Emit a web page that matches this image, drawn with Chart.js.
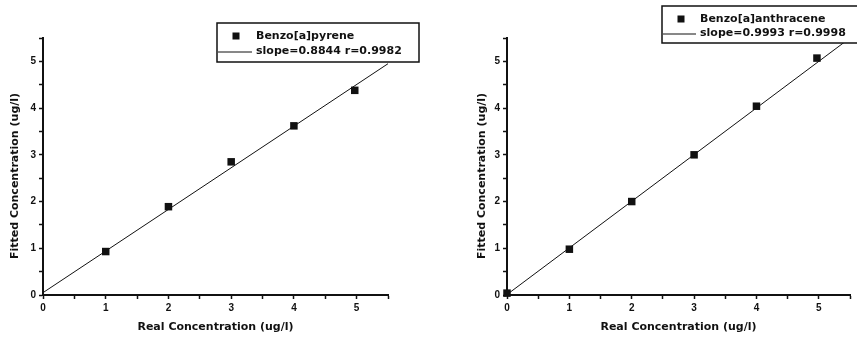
<!DOCTYPE html>
<html lang="en">
<head>
<meta charset="UTF-8">
<title>Fitted vs Real Concentration</title>
<script src="https://cdn.jsdelivr.net/npm/chart.js@4.4.1/dist/chart.umd.min.js"></script>
<style>
  html, body { margin: 0; padding: 0; background: #fff; }
  .wrap { display: flex; width: 857px; height: 337px; overflow: hidden; }
  canvas { display: block; }
</style>
</head>
<body>
<div class="wrap">
  <canvas id="chartA" width="428" height="337"></canvas>
  <canvas id="chartB" width="429" height="337"></canvas>
</div>
<script>
// Benzo[a]pyrene
const realA = [1, 2, 3, 4, 4.97];
const fittedA = [0.93, 1.89, 2.85, 3.62, 4.38];
const fitXA = [0, 5.5];
const fitYA = [0.05, 4.95];

// Benzo[a]anthracene
const realB = [0, 1, 2, 3, 4, 4.97];
const fittedB = [0.04, 0.98, 2.0, 3.0, 4.04, 5.07];
const fitXB = [0, 5.5];
const fitYB = [0.01, 5.5];

const names = ['Benzo[a]pyrene', 'Benzo[a]anthracene'];
const fitLabels = ['slope=0.8844 r=0.9982', 'slope=0.9993 r=0.9998'];
const xTitle = 'Real Concentration (ug/l)';
const yTitle = 'Fitted Concentration (ug/l)';
const tickStep = 0.5;
const axisMax = 5.5;

const INK = '#111';
const toPts = (xs, ys) => xs.map((x, i) => ({ x, y: ys[i] }));

// legend box over the plot + y title, placed like the original figure
const boxLegend = {
  id: 'boxLegend',
  afterDraw(chart, args, o) {
    const ctx = chart.ctx;
    ctx.save();
    ctx.fillStyle = '#fff';
    ctx.strokeStyle = INK;
    ctx.lineWidth = 1.5;
    ctx.fillRect(o.x, o.y, o.w, o.h);
    ctx.strokeRect(o.x, o.y, o.w, o.h);
    ctx.fillStyle = INK;
    ctx.fillRect(o.markX - 3.5, o.row1 - 3.5, 7, 7);
    ctx.lineWidth = 1;
    ctx.beginPath();
    ctx.moveTo(o.x + 1, o.row2 + 1);
    ctx.lineTo(o.textX - 4, o.row2 + 1);
    ctx.stroke();
    ctx.font = 'bold 11px "DejaVu Sans", sans-serif';
    ctx.textBaseline = 'middle';
    ctx.fillText(o.label, o.textX, o.row1);
    ctx.fillText(o.fit, o.textX, o.row2);

    // y axis title
    ctx.translate(o.yTitleX, o.yTitleY);
    ctx.rotate(-Math.PI / 2);
    ctx.textAlign = 'center';
    ctx.fillText(yTitle, 0, 0);
    ctx.restore();
  }
};

function makeChart(id, xs, ys, fx, fy, idx, pad, legend) {
  return new Chart(document.getElementById(id), {
    type: 'scatter',
    data: {
      datasets: [
        {
          label: names[idx],
          data: toPts(xs, ys),
          pointStyle: 'rect',
          pointRadius: 5.3,
          backgroundColor: INK,
          borderColor: INK,
          borderWidth: 0,
          clip: false
        },
        {
          label: fitLabels[idx],
          data: toPts(fx, fy),
          showLine: true,
          pointRadius: 0,
          borderColor: INK,
          borderWidth: 1,
          fill: false
        }
      ]
    },
    options: {
      responsive: false,
      animation: false,
      layout: { padding: pad },
      plugins: {
        legend: { display: false },
        tooltip: { enabled: false },
        boxLegend: { ...legend, label: names[idx], fit: fitLabels[idx] }
      },
      scales: {
        x: {
          type: 'linear', min: 0, max: axisMax,
          afterFit: s => { s.height = 42; },
          border: { color: INK, width: 2 },
          grid: { drawOnChartArea: false, drawTicks: true, tickLength: 4, tickColor: INK, tickWidth: 1.5 },
          ticks: {
            stepSize: tickStep, padding: 3, color: INK, maxRotation: 0, autoSkip: false,
            font: { family: 'Liberation Sans', size: 10, weight: 'bold' },
            callback: v => Number.isInteger(v) ? String(v) : ''
          },
          title: {
            display: true, text: xTitle, color: INK,
            font: { family: 'DejaVu Sans', size: 11, weight: 'bold' },
            padding: { top: 0, bottom: 3 }
          }
        },
        y: {
          type: 'linear', min: 0, max: axisMax,
          afterFit: s => { s.width = 43; },
          border: { color: INK, width: 2 },
          grid: { drawOnChartArea: false, drawTicks: true, tickLength: 4, tickColor: INK, tickWidth: 1.5 },
          ticks: {
            stepSize: tickStep, padding: 3, color: INK, autoSkip: false,
            font: { family: 'Liberation Sans', size: 10, weight: 'bold' },
            callback: v => Number.isInteger(v) ? String(v) : ''
          }
        }
      }
    },
    plugins: [boxLegend]
  });
}

makeChart('chartA', realA, fittedA, fitXA, fitYA, 0,
  { left: 0, right: 40, top: 38, bottom: 0 },
  { x: 217, y: 23, w: 202, h: 39, markX: 236, textX: 256, row1: 36, row2: 51, yTitleX: 15, yTitleY: 176 });

makeChart('chartB', realB, fittedB, fitXB, fitYB, 1,
  { left: 36, right: 7, top: 38, bottom: 0 },
  { x: 234, y: 6, w: 210, h: 37, markX: 253, textX: 272, row1: 19, row2: 33, yTitleX: 54, yTitleY: 176 });
</script>
</body>
</html>
